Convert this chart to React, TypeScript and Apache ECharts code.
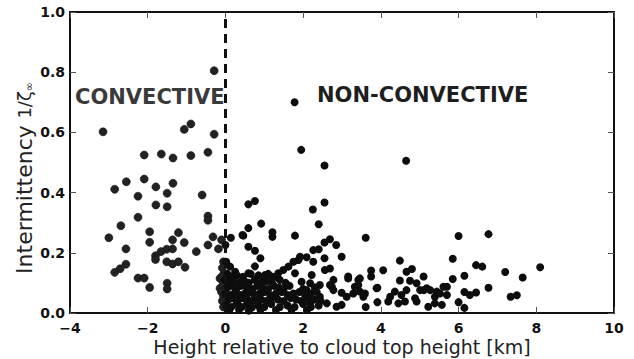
import React, { useEffect, useRef } from "react";
import * as echarts from "echarts";

const xTicks = [-4, -2, 0, 2, 4, 6, 8, 10];
const yTicks = [0, 0.2, 0.4, 0.6, 0.8, 1.0];

const convectivePoints: [number, number][] = [
  [-3.15, 0.602], [-0.29, 0.805], [-1.06, 0.61], [-0.89, 0.628], [-0.29, 0.594],
  [-2.09, 0.525], [-1.65, 0.528], [-1.35, 0.515], [-0.89, 0.523], [-0.45, 0.534],
  [-2.85, 0.411], [-2.55, 0.436], [-2.09, 0.445], [-1.79, 0.419], [-1.35, 0.431],
  [-1.5, 0.398], [-2.25, 0.388], [-0.6, 0.392], [-1.79, 0.359], [-1.5, 0.353],
  [-2.25, 0.318], [-0.45, 0.322], [-0.45, 0.308],
  [-2.69, 0.29], [-3.0, 0.25], [-1.95, 0.27], [-1.95, 0.235], [-2.56, 0.213],
  [-1.21, 0.267], [-1.36, 0.243], [-1.06, 0.234], [-1.51, 0.212], [-1.66, 0.204],
  [-1.8, 0.19], [-1.8, 0.178], [-1.51, 0.17], [-1.36, 0.213], [-1.36, 0.163],
  [-1.21, 0.17], [-1.04, 0.152], [-0.75, 0.204], [-0.45, 0.226], [-0.32, 0.253],
  [-0.18, 0.213], [-0.1, 0.243], [-2.56, 0.162], [-2.71, 0.147], [-2.85, 0.135],
  [-2.25, 0.116], [-2.09, 0.116], [-1.95, 0.085], [-1.5, 0.099], [-1.5, 0.08],
  [-0.14, 0.115], [-0.14, 0.082],
  [-0.05, 0.17], [-0.08, 0.15], [-0.04, 0.13], [-0.1, 0.12], [-0.06, 0.1],
  [-0.1, 0.07], [-0.05, 0.055], [-0.08, 0.04], [-0.05, 0.02]
];

const nonConvectivePoints: [number, number][] = [
  [1.78, 0.7], [1.95, 0.542], [2.55, 0.49], [4.65, 0.506],
  [0.59, 0.361], [0.76, 0.372], [2.55, 0.367], [2.25, 0.344], [2.4, 0.295],
  [0.92, 0.297], [0.59, 0.282], [0.46, 0.257], [1.21, 0.268], [1.21, 0.253],
  [1.79, 0.257], [3.61, 0.25], [6.0, 0.256], [6.77, 0.262],
  [0.59, 0.22], [0.76, 0.207], [0.9, 0.182], [0.76, 0.155], [0.59, 0.132],
  [2.26, 0.209], [2.55, 0.234], [2.69, 0.245], [2.85, 0.226], [2.4, 0.212],
  [2.99, 0.187], [1.92, 0.187], [2.09, 0.185], [2.26, 0.17], [2.55, 0.182],
  [2.69, 0.148], [1.88, 0.176], [1.75, 0.17], [1.62, 0.154], [1.49, 0.143],
  [1.36, 0.132], [1.19, 0.121], [1.02, 0.126], [1.79, 0.132], [1.96, 0.104],
  [2.22, 0.126], [2.56, 0.143], [3.16, 0.121], [3.42, 0.11], [2.74, 0.087],
  [0.0, 0.226], [0.14, 0.25], [0.44, 0.259], [0.02, 0.17], [0.12, 0.154], [0.25, 0.137],
  [4.49, 0.174], [5.85, 0.18], [6.45, 0.159], [6.61, 0.154], [8.1, 0.152],
  [7.2, 0.136], [7.65, 0.118], [6.15, 0.124], [5.85, 0.113], [6.77, 0.084],
  [6.45, 0.068], [6.29, 0.06], [6.15, 0.07], [7.34, 0.054], [7.5, 0.059],
  [6.0, 0.036], [6.15, 0.017],
  [4.06, 0.142], [3.75, 0.141], [3.75, 0.121], [3.91, 0.084], [3.91, 0.036],
  [3.61, 0.02], [3.16, 0.115], [3.46, 0.115], [4.49, 0.108], [4.66, 0.137],
  [4.8, 0.146], [5.1, 0.121], [4.92, 0.099], [4.75, 0.107], [4.66, 0.076],
  [5.11, 0.076], [5.27, 0.076], [5.7, 0.087], [5.52, 0.065], [5.39, 0.054],
  [5.7, 0.06], [4.24, 0.054], [4.36, 0.071], [4.53, 0.06], [4.45, 0.032],
  [4.62, 0.038], [4.88, 0.049], [5.01, 0.076], [5.18, 0.082], [5.44, 0.071],
  [5.61, 0.087], [5.39, 0.032], [5.57, 0.027], [5.22, 0.021], [4.92, 0.038],
  [4.19, 0.038], [3.42, 0.093], [3.46, 0.071], [3.55, 0.054], [3.29, 0.065],
  [2.99, 0.067], [3.12, 0.054], [2.78, 0.076], [2.43, 0.054], [2.18, 0.032],
  [2.86, 0.021], [2.99, 0.027], [2.61, 0.032], [2.43, 0.093], [2.78, 0.11],
  [2.69, 0.093], [2.18, 0.099], [2.09, 0.076], [3.33, 0.087], [3.59, 0.065],
  [3.89, 0.082],
  [0.05, 0.13], [0.15, 0.12], [0.3, 0.125], [0.45, 0.12], [0.65, 0.13],
  [0.85, 0.125], [1.0, 0.115], [1.1, 0.13], [1.3, 0.12],
  [-0.02, 0.11], [0.1, 0.1], [0.2, 0.11], [0.35, 0.1], [0.5, 0.105],
  [0.6, 0.1], [0.75, 0.11], [0.9, 0.1], [1.05, 0.105], [1.2, 0.1],
  [1.4, 0.11], [1.55, 0.1],
  [0.05, 0.085], [0.18, 0.09], [0.28, 0.08], [0.4, 0.09], [0.55, 0.085],
  [0.7, 0.08], [0.82, 0.09], [0.95, 0.085], [1.1, 0.08], [1.25, 0.09],
  [1.38, 0.085], [1.5, 0.08], [1.65, 0.09], [2.0, 0.08], [2.3, 0.085],
  [0.0, 0.065], [0.12, 0.06], [0.25, 0.07], [0.38, 0.06], [0.5, 0.065],
  [0.62, 0.07], [0.75, 0.06], [0.88, 0.065], [1.0, 0.07], [1.15, 0.06],
  [1.3, 0.065], [1.45, 0.07], [1.6, 0.06], [1.75, 0.065], [1.9, 0.07],
  [2.05, 0.06], [2.2, 0.065], [2.35, 0.07],
  [0.08, 0.045], [0.2, 0.05], [0.32, 0.04], [0.45, 0.05], [0.58, 0.045],
  [0.7, 0.04], [0.8, 0.05], [0.92, 0.045], [1.05, 0.04], [1.2, 0.05],
  [1.35, 0.045], [1.5, 0.04], [1.68, 0.05], [1.82, 0.045], [1.95, 0.04],
  [2.12, 0.05], [2.28, 0.045], [2.45, 0.04],
  [0.02, 0.025], [0.15, 0.02], [0.28, 0.03], [0.42, 0.02], [0.55, 0.028],
  [0.68, 0.018], [0.85, 0.025], [1.0, 0.02], [1.18, 0.03], [1.4, 0.02],
  [1.6, 0.025], [1.78, 0.02], [2.0, 0.03], [2.2, 0.02], [2.4, 0.025],
  [0.1, 0.01], [0.35, 0.012], [0.6, 0.008], [0.9, 0.012], [1.3, 0.01],
  [1.7, 0.012], [2.1, 0.01]
];

const FONT = "DejaVu Sans";

export default function App() {
  const ref = useRef<HTMLDivElement>(null);
  useEffect(() => {
    if (!ref.current) return;
    const chart = echarts.init(ref.current, undefined, { renderer: "svg" });
    const xMin = xTicks[0];
    const xMax = xTicks[xTicks.length - 1];
    const yMin = yTicks[0];
    const yMax = yTicks[yTicks.length - 1];
    const axisLine = { show: true, onZero: false, lineStyle: { color: "#111", width: 2 } };
    const axisTick = { show: true, inside: true, length: 6, lineStyle: { color: "#555", width: 1 } };
    const labelStyle = { color: "#111", fontFamily: FONT, fontSize: 14, fontWeight: "bold" as const };
    chart.setOption({
      animation: false,
      backgroundColor: "#ffffff",
      grid: { left: 70, right: 20, top: 12, bottom: 46 },
      xAxis: [
        {
          type: "value", min: xMin, max: xMax, interval: 2, position: "bottom",
          axisLine, axisTick, splitLine: { show: false },
          axisLabel: { ...labelStyle, margin: 8, formatter: (v: number) => String(v).replace("-", "\u2212") },
        },
        {
          type: "value", min: xMin, max: xMax, interval: 2, position: "top",
          axisLine, axisTick, splitLine: { show: false }, axisLabel: { show: false },
        },
      ],
      yAxis: [
        {
          type: "value", min: yMin, max: yMax, interval: 0.2, position: "left",
          axisLine, axisTick, splitLine: { show: false },
          axisLabel: { ...labelStyle, margin: 5, formatter: (v: number) => v.toFixed(1) },
        },
        {
          type: "value", min: yMin, max: yMax, interval: 0.2, position: "right",
          axisLine, axisTick, splitLine: { show: false }, axisLabel: { show: false },
        },
      ],
      series: [
        {
          type: "scatter", name: "convective", data: convectivePoints,
          symbolSize: 8, itemStyle: { color: "#222", borderColor: "#111", borderWidth: 0.6, opacity: 1 },
        },
        {
          type: "scatter", name: "non-convective", data: nonConvectivePoints,
          symbolSize: 8, itemStyle: { color: "#0d0d0d", opacity: 1 },
          markLine: {
            silent: true, symbol: ["none", "none"], label: { show: false }, z: 10,
            lineStyle: { type: [9, 6], color: "#111", width: 3 },
            data: [{ xAxis: 0 }],
          },
        },
      ],
      graphic: [
        {
          type: "text", left: 75, top: 86,
          style: { text: "CONVECTIVE", fill: "#3a3a3a", font: `bold 21px "${FONT}"` },
        },
        {
          type: "text", left: 317, top: 84,
          style: { text: "NON-CONVECTIVE", fill: "#1e1e1e", font: `bold 21px "${FONT}"` },
        },
        {
          type: "text", x: 342, y: 347,
          style: {
            text: "Height relative to cloud top height [km]", fill: "#222",
            font: `19px "${FONT}"`, align: "center", verticalAlign: "middle",
          },
        },
        {
          type: "text", x: 24, y: 178, rotation: Math.PI / 2,
          style: {
            text: "{a|Intermittency}  {b|1/\u03b6}{c|\u221e}",
            align: "center", verticalAlign: "middle", fill: "#222",
            rich: {
              a: { fontFamily: FONT, fontSize: 22, fill: "#222" },
              b: { fontFamily: FONT, fontSize: 18, fill: "#222" },
              c: { fontFamily: FONT, fontSize: 11, fill: "#222", verticalAlign: "bottom", padding: [10, 0, 0, 0] },
            },
          },
        },
      ],
    });
    return () => chart.dispose();
  }, []);
  return <div ref={ref} style={{ width: 634, height: 359, position: "absolute", left: 0, top: 0 }} />;
}
